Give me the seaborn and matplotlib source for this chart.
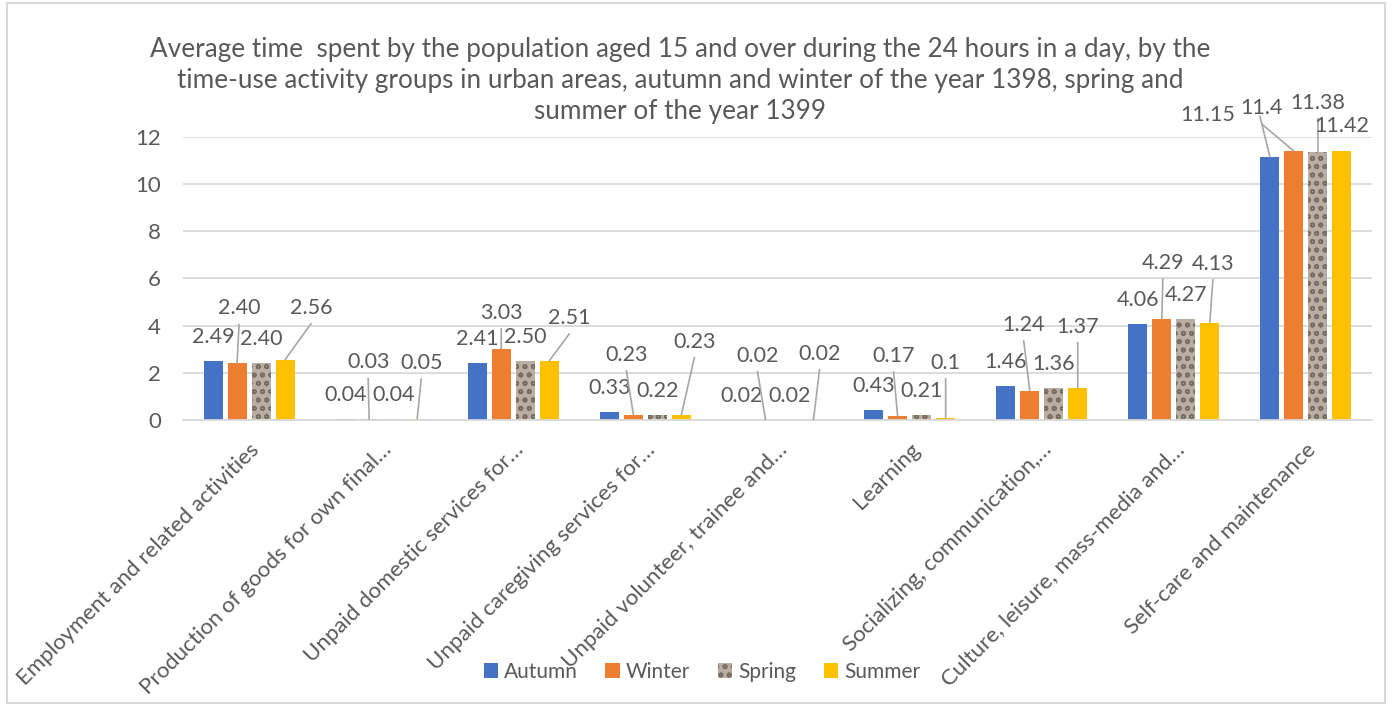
import pandas as pd
import seaborn as sns
import matplotlib.pyplot as plt
from matplotlib.patches import Rectangle

# Activity groups (category labels as shown, truncated like the original)
activities = [
    'Employment and related activities',
    'Production of goods for own final…',
    'Unpaid domestic services for…',
    'Unpaid caregiving services for…',
    'Unpaid volunteer, trainee and…',
    'Learning',
    'Socializing, communication,…',
    'Culture, leisure, mass-media and…',
    'Self-care and maintenance',
]
seasons = ['Autumn', 'Winter', 'Spring', 'Summer']

# Data labels as printed on the chart (values are read from them)
autumn = ['2.49', '0.04', '2.41', '0.33', '0.02', '0.43', '1.46', '4.06', '11.15']
winter = ['2.40', '0.03', '3.03', '0.23', '0.02', '0.17', '1.24', '4.29', '11.4']
spring = ['2.40', '0.04', '2.50', '0.22', '0.02', '0.21', '1.36', '4.27', '11.38']
summer = ['2.56', '0.05', '2.51', '0.23', '0.02', '0.1', '1.37', '4.13', '11.42']
labels_by_season = dict(zip(seasons, [autumn, winter, spring, summer]))

title_lines = [
    'Average time  spent by the population aged 15 and over during the 24 hours in a day, by the',
    'time-use activity groups in urban areas, autumn and winter of the year 1398, spring and',
    'summer of the year 1399',
]

# Label placement (pixel offsets from bar top) and leader lines, Excel-like
label_offsets = {
    'Autumn': [(0, 24)] * 8 + [(-62, 42)],
    'Winter': [(2, 55), (-1, 57), (0, 36), (-7, 60), (-8, 64), (-4, 60), (-6, 66), (1, 56), (-32, 43)],
    'Spring': [(0, 24)] * 8 + [(0, 49)],
    'Summer': [(26, 52), (4, 56), (20, 43), (13, 73), (6, 66), (0, 55), (0, 61), (3, 59), (0, 25)],
}
leaders = {
    'Autumn': [False] * 8 + [True],
    'Winter': [True] * 9,
    'Spring': [False] * 8 + [True],
    'Summer': [True] * 8 + [False],
}

colors = {'Autumn': '#4472C4', 'Winter': '#ED7D31', 'Spring': '#B9AEA3', 'Summer': '#FFC000'}
text_col = '#595959'

rows = []
for s in seasons:
    for a, v in zip(activities, labels_by_season[s]):
        rows.append({'activity': a, 'season': s, 'hours': float(v)})
df = pd.DataFrame(rows)

sns.set_style('white')
plt.rcParams['font.family'] = ['Lato', 'DejaVu Sans']
plt.rcParams['hatch.linewidth'] = 1.2

fig = plt.figure(figsize=(13.93, 7.07), dpi=100)
ax = fig.add_axes([183 / 1393, 1 - 420 / 707, (1372 - 183) / 1393, (420 - 137) / 707])

sns.barplot(data=df, x='activity', y='hours', hue='season', hue_order=seasons,
            palette=colors, saturation=1, width=0.727, gap=0.21, legend=False,
            errorbar=None, ax=ax, linewidth=0)

# textured look for spring
for p in ax.containers[2].patches:
    p.set_hatch('oo')
    p.set_edgecolor('#7a6d62')
    p.set_linewidth(0)

ax.set_ylim(0, 12)
ax.set_xlim(-0.5, len(activities) - 0.5)
ax.set_yticks(range(0, 13, 2))
ax.set_xlabel('')
ax.set_ylabel('')
ax.yaxis.grid(True, color='#d9d9d9', linewidth=1.3)
ax.set_axisbelow(True)
for side in ['left', 'right', 'top']:
    ax.spines[side].set_visible(False)
ax.spines['bottom'].set_color('#d9d9d9')
ax.spines['bottom'].set_linewidth(1.3)
ax.tick_params(axis='both', length=0, colors=text_col, labelsize=16)
ax.tick_params(axis='y', pad=16)
ax.tick_params(axis='x', pad=14)
plt.setp(ax.get_xticklabels(), rotation=45, ha='right', rotation_mode='anchor')

# data labels with leader lines
for s, cont in zip(seasons, ax.containers):
    for i, p in enumerate(cont.patches):
        x = p.get_x() + p.get_width() / 2
        y = p.get_height()
        dx, dy = label_offsets[s][i]
        ax.annotate(labels_by_season[s][i], xy=(x, y), xytext=(dx, dy),
                    textcoords='offset pixels', ha='center', va='center',
                    fontsize=15.5, color=text_col, annotation_clip=False)
        if leaders[s][i]:
            if s == 'Autumn':
                start = (-10, 41)
            else:
                start = (dx, dy - 16)
            ax.annotate('', xy=(x, y), xytext=start, textcoords='offset pixels',
                        annotation_clip=False,
                        arrowprops=dict(arrowstyle='-', color='#a6a6a6', lw=1.2,
                                        shrinkA=0, shrinkB=0))

# title, one text per line
for k, line in enumerate(title_lines):
    fig.text(680 / 1393, 1 - (50 + 30.5 * k) / 707, line, ha='center', va='center',
             fontsize=18.8, color=text_col)

fig.legend(handles=list(ax.containers), labels=seasons, loc='center',
           bbox_to_anchor=(702 / 1393, 1 - 672 / 707), ncol=4, frameon=False,
           fontsize=15, handlelength=0.7, handleheight=0.7, handletextpad=0.3,
           columnspacing=1.3, labelcolor=text_col)

fig.patches.append(Rectangle((7 / 1393, 4 / 707), 1378 / 1393, 700 / 707,
                             transform=fig.transFigure, fill=False,
                             edgecolor='#d9d9d9', linewidth=1.5))

fig.savefig('out.png', dpi=100)
